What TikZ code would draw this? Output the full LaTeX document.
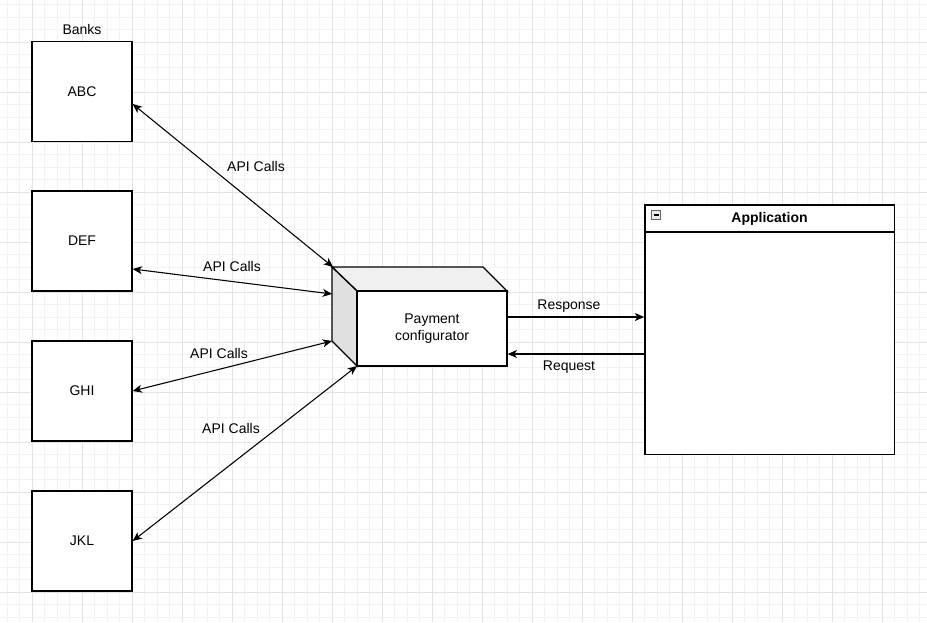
\documentclass[tikz,border=0pt]{standalone}
\usepackage{fontspec}
\setmainfont{Liberation Sans}
\usetikzlibrary{arrows.meta}
\begin{document}
\begin{tikzpicture}[x=0.75pt,y=-0.75pt,
  box/.style={draw,line width=1pt,fill=white},
  lbl/.style={font=\fontsize{10.5}{12.5}\selectfont},
  arr/.style={line width=0.8pt,-{Stealth[length=7pt,width=6pt,inset=2pt]}},
  darr/.style={line width=0.8pt,{Stealth[length=7pt,width=6pt,inset=2pt]}-{Stealth[length=7pt,width=6pt,inset=2pt]}}]
\useasboundingbox (0,0) rectangle (927,622);
\fill[white] (0,0) rectangle (927,622);
\foreach \i in {0,...,74} {\draw[black!5,line width=0.5pt] (7+12.5*\i,0) -- (7+12.5*\i,622);}
\foreach \i in {0,...,50} {\draw[black!5,line width=0.5pt] (0,4.5+12.5*\i) -- (927,4.5+12.5*\i);}
\foreach \i in {0,...,18} {\draw[black!11,line width=0.5pt] (32+50*\i,0) -- (32+50*\i,622);}
\foreach \i in {0,...,12} {\draw[black!11,line width=0.5pt] (0,42+50*\i) -- (927,42+50*\i);}
\node[lbl] (banks) at (82,29) {Banks};
\node[box,minimum width=75pt,minimum height=75pt,lbl] (abc) at (82,91.5) {ABC};
\node[box,minimum width=75pt,minimum height=75pt,lbl] (def) at (82,241) {DEF};
\node[box,minimum width=75pt,minimum height=75pt,lbl] (ghi) at (82,391) {GHI};
\node[box,minimum width=75pt,minimum height=75pt,lbl] (jkl) at (82,541) {JKL};
% cube
\filldraw[line width=1pt,fill=black!6] (332,267) -- (483,267) -- (507,291) -- (357,291) -- cycle;
\filldraw[line width=1pt,fill=black!12] (332,267) -- (357,291) -- (357,366) -- (332,341) -- cycle;
\node[box,minimum width=112.5pt,minimum height=56.25pt,lbl,align=center,inner sep=0pt] (pay) at (432,328.5) {Payment\\configurator};
\coordinate (c1) at (333,267);
\coordinate (c2) at (332,294);
\coordinate (c3) at (332,341);
\coordinate (c4) at (357,366);
% application
\node[box,minimum width=187pt,minimum height=187pt] (app) at (769.5,329.5) {};
\draw[line width=1pt] (645,232) -- (894,232);
\node[lbl,font=\fontsize{10.5}{12.5}\selectfont\bfseries] (apptitle) at (769.5,218.5) {Application};
\node[draw=black!60,fill=black!8,minimum size=7pt,inner sep=0pt] (minus) at (656,215) {};
\draw[line width=0.8pt] (653.5,215) -- (658.5,215);
\draw[darr] (abc.east |- 0,104) -- (c1);
\draw[darr] (def.east |- 0,269) -- (c2);
\draw[darr] (ghi.east |- 0,391) -- (c3);
\draw[darr] (jkl.east |- 0,541) -- (c4);
\node[lbl] (l1) at (256,166) {API Calls};
\node[lbl] (l2) at (232,266) {API Calls};
\node[lbl] (l3) at (219,353) {API Calls};
\node[lbl] (l4) at (231,428) {API Calls};
\draw[arr] (pay.east |- 0,317) -- (app.west |- 0,317);
\draw[arr] (app.west |- 0,354) -- (pay.east |- 0,354);
\node[lbl] (resp) at (569,306) {Response};
\node[lbl] (req) at (569,367) {Request};
\end{tikzpicture}
\end{document}
